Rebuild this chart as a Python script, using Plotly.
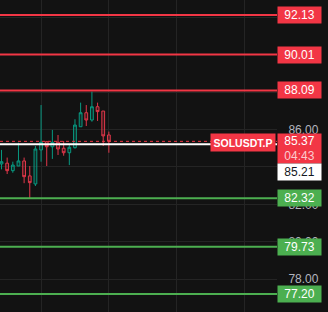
import plotly.graph_objects as go

# Candle data (index positions)
idx = list(range(20))
opens  = [84.16, 84.20, 83.80, 84.05, 84.32, 83.52, 83.09, 84.91, 85.35, 85.08,
          85.32, 85.00, 84.76, 85.03, 86.15, 86.90, 86.51, 87.22, 86.99, 85.71]
highs  = [84.91, 84.50, 84.28, 85.30, 84.50, 84.05, 85.12, 87.31, 85.39, 85.98,
          85.71, 85.39, 85.17, 86.55, 87.44, 87.31, 88.03, 87.44, 86.99, 85.89]
lows   = [83.87, 83.62, 83.69, 84.05, 83.13, 82.32, 82.98, 84.28, 84.05, 84.43,
          84.64, 84.60, 84.10, 84.98, 86.15, 86.19, 86.42, 86.46, 85.12, 84.76]
closes = [84.28, 83.80, 84.10, 84.32, 83.48, 83.16, 84.96, 85.32, 85.08, 85.32,
          84.96, 84.76, 85.05, 86.24, 86.90, 86.51, 87.22, 86.96, 85.66, 85.37]

resistance_levels = [92.13, 90.01, 88.09]
support_levels = [82.32, 79.73, 77.20]
last_price = 85.37
countdown = "04:43"
position_price = 85.21
symbol = "SOLUSDT.P"
y_ticks = [78, 80, 82, 84, 86, 88, 90, 92]
y_tick_labels = ["78.00", "80.00", "82.00", "", "86.00", "", "", ""]
x_grid = [7, 19, 31, 43]

RED = "#F23645"
GREEN = "#4CAF50"
BG = "#121212"
GRID = "#242424"

fig = go.Figure()
fig.add_trace(go.Candlestick(
    x=idx, open=opens, high=highs, low=lows, close=closes,
    increasing=dict(line=dict(color="#089981", width=1), fillcolor="rgba(8,153,129,0.2)"),
    decreasing=dict(line=dict(color="#E0374A", width=1), fillcolor="rgba(242,54,69,0.2)"),
    whiskerwidth=0, showlegend=False, hoverinfo="skip",
))

shapes = []
for lv in resistance_levels:
    shapes.append(dict(type="line", xref="paper", x0=0, x1=1, yref="y", y0=lv, y1=lv,
                       line=dict(color=RED, width=2)))
for lv in support_levels:
    shapes.append(dict(type="line", xref="paper", x0=0, x1=1, yref="y", y0=lv, y1=lv,
                       line=dict(color=GREEN, width=2)))
shapes.append(dict(type="line", xref="paper", x0=0, x1=1, yref="y", y0=last_price, y1=last_price,
                   line=dict(color=RED, width=1, dash="dot")))
shapes.append(dict(type="line", xref="paper", x0=0, x1=1, yref="y", y0=position_price, y1=position_price,
                   line=dict(color="#FFFFFF", width=2)))

annotations = []
FONT = "Liberation Sans, Arial, sans-serif"
for lv in resistance_levels:
    annotations.append(dict(xref="paper", x=1, xanchor="left", yref="y", y=lv, yanchor="middle",
                            text=f"{lv:.2f}", showarrow=False, bgcolor=RED, width=39, height=12,
                            borderpad=2, font=dict(color="#FFFFFF", size=12, family=FONT)))
for lv in support_levels:
    annotations.append(dict(xref="paper", x=1, xanchor="left", yref="y", y=lv, yanchor="middle",
                            text=f"{lv:.2f}", showarrow=False, bgcolor=GREEN, width=39, height=12,
                            borderpad=2, font=dict(color="#FFFFFF", size=12, family=FONT)))
annotations.append(dict(xref="paper", x=1, xanchor="left", yref="y", y=last_price, yanchor="middle",
                        yshift=-7,
                        text=f"{last_price:.2f}<br><span style='color:rgba(255,255,255,0.75)'>{countdown}</span>",
                        showarrow=False, bgcolor=RED, width=39, height=25, borderpad=2,
                        font=dict(color="#FFFFFF", size=12, family=FONT)))
annotations.append(dict(xref="paper", x=1, xanchor="left", yref="y", y=position_price, yanchor="middle",
                        yshift=-28, text=f"{position_price:.2f}", showarrow=False, bgcolor="#FFFFFF",
                        width=39, height=12, borderpad=2,
                        font=dict(color="#131722", size=12, family=FONT)))
annotations.append(dict(xref="paper", x=1, xanchor="right", xshift=-1, yref="y", y=last_price,
                        yanchor="middle", yshift=-1, text=f"<b>{symbol}</b>", showarrow=False,
                        bgcolor=RED, width=60, height=13, borderpad=2,
                        font=dict(color="#FFFFFF", size=10.5, family=FONT)))

fig.update_layout(
    width=328, height=312,
    margin=dict(l=0, r=51, t=0, b=0),
    paper_bgcolor=BG, plot_bgcolor=BG,
    shapes=shapes, annotations=annotations,
    xaxis=dict(range=[-0.27, 48.76], tickvals=x_grid, showticklabels=False,
               showgrid=True, gridcolor=GRID, gridwidth=1, zeroline=False,
               rangeslider=dict(visible=False), fixedrange=True),
    yaxis=dict(range=[76.24, 92.93], side="right", tickvals=y_ticks,
               ticktext=y_tick_labels,
               showgrid=True, gridcolor=GRID, gridwidth=1, zeroline=False,
               tickfont=dict(color="#B2B5BE", size=12, family=FONT),
               ticks="outside", ticklen=8, tickcolor="rgba(0,0,0,0)", fixedrange=True),
)

fig.write_html("out.html", config={"displayModeBar": False})
